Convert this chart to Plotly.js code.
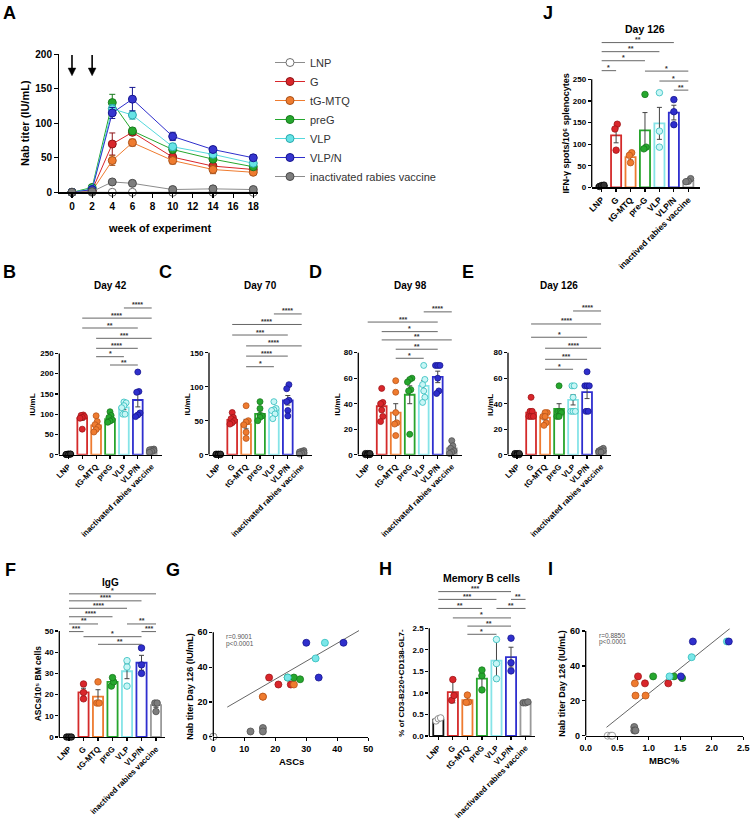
<!DOCTYPE html>
<html><head><meta charset="utf-8">
<script src="https://cdn.plot.ly/plotly-3.0.1.min.js"></script>
<style>html,body{margin:0;padding:0;background:#fff}#chart{width:750px;height:822px}</style>
</head><body><div id="chart"></div>
<script>
// ================= DATA =================
const groupsA = ['LNP','G','tG-MTQ','preG','VLP','VLP/N','inactivated rabies vaccine'];
const catsDay = ['LNP','G','tG-MTQ','preG','VLP','VLP/N','inactivated rabies vaccine'];
const catsJ   = ['LNP','G','tG-MTQ','pre-G','VLP','VLP/N','inactived rabies vaccine'];
const catsF   = ['LNP','G','tG-MTQ','preG','VLP','VLP/N','inactived rabies vaccine'];
const catsH   = ['LNP','G','tG-MTQ','preG','VLP','VLP/N','inactivated rabies vaccine'];

// A: Nab titer (IU/mL) mean and SEM by week
const weeks = [0,2,4,6,10,14,18];
const immunizationWeeks = [0,2];
const titerLNP   = [0,0,0,0,0,0,0];
const titerG     = [0,3,70,87,51,38,33];
const titerTG    = [0,2,46,72,46,33,29];
const titerPreG  = [0,7,130,89,62,48,37];
const titerVLP   = [0,5,121,112,66,55,42];
const titerVLPN  = [0,4,115,135,81,62,50];
const titerInact = [0,1,15,13,4,5,4];
const semLNP   = [0,0,0,0,0,0,0];
const semG     = [0,1,16,4,5,4,3];
const semTG    = [0,1,7,5,5,6,3];
const semPreG  = [0,2,12,4,4,4,3];
const semVLP   = [0,2,6,6,5,4,3];
const semVLPN  = [0,2,8,17,6,4,4];
const semInact = [0,0.5,1.5,1.5,1,1,1];

// J: IFN-y spots, day 126
const meanJ = [3,120,70,132,148,173,15];
const semJ  = [1,17,7,41,37,17,2];
const ptsJ  = [[2,4,5],[146,135,86],[80,74,57],[215,93,89],[219,130,93],[203,175,145],[20,14,13]];
const sigJ  = [[0,1,270,'*'],[0,3,293,'*'],[0,4,314,'**'],[0,5,335,'**'],[3,6,269,'*'],[4,6,246,'*'],[5,6,225,'**']];

// B: Day 42
const mean42 = [1,90,72,88,117,135,10];
const sem42  = [0.5,5,6,4,6,17,1];
const pts42  = [[0,1,2,1,0,2],[98,97,94,92,90,63],[96,82,74,68,62,56],[106,97,92,86,83,80],[130,128,121,116,100,100],[204,156,154,103,98,94],[14,13,12,10,8,6]];
const sig42  = [[4,6,362,'****'],[1,6,337,'****'],[1,5,312.6,'**'],[2,6,287.2,'***'],[2,5,262.5,'****'],[2,4,241.8,'*'],[3,5,221.3,'**']];

// C: Day 70
const mean70 = [0.5,51,45,60,65,80,3];
const sem70  = [0.3,2.5,7,4.5,3.5,7,1];
const pts70  = [[0,1,1,0,0,1],[62,55,53,50,47,45],[72,50,48,44,33,24],[78,68,58,57,55,50],[78,68,66,65,60,53],[103,97,80,78,65,57],[6,5,4,3,2,1]];
const sig70  = [[4,6,207,'****'],[1,6,191.5,'****'],[1,5,176,'***'],[2,6,160,'****'],[2,5,145,'****'],[2,4,129.4,'*']];

// D: Day 98
const mean98 = [0.5,38,33,47,54,61,5];
const sem98  = [0.3,4,7,7,4,4.5,1.5];
const pts98  = [[0,1,1,0,0,1],[52,41,40,35,30,26],[58,49,33,25,24,15],[60,59,57,51,50,16],[70,59,55,50,45,41],[70,70,70,60,50,48],[11,7,5,3,2,1]];
const sig98  = [[4,6,112,'****'],[0,5,104,'***'],[1,5,96.5,'*'],[1,6,90,'**'],[2,5,82.7,'**'],[2,4,75.6,'*']];

// E: Day 126
const mean126 = [0.5,33,29,36,43,49,3];
const sem126  = [0.3,2.5,1.7,4,4,5,0.5];
const pts126  = [[0,1,1,0,0,1],[45,34,34,30,30,30],[33,33,30,30,25,23],[54,34,34,33,30,30],[54,54,45,34,34,34],[65,54,54,54,34,34],[5,4,3,3,2,2]];
const sig126  = [[4,6,112.7,'****'],[1,6,102.5,'****'],[1,5,92.1,'*'],[2,6,83.5,'****'],[2,5,74.8,'***'],[2,4,67,'*']];

// per-mouse values used in F, G, H, I (same mouse order in each list)
const ascPts = [[0,0,0],[18,21,25],[16,16,26],[24,26,28],[24,33,36],[30,34,42],[16,16,12]];
const mbcPts = [[0.35,0.40,0.42],[0.83,0.94,1.31],[0.79,0.95,0.78],[1.07,1.40,1.53],[1.33,1.68,2.24],[1.70,1.51,2.27],[0.77,0.77,0.79]];
const nabPts = [[0,0,0],[34,30,30],[23,23,30],[34,34,33],[34,45,54],[54,34,54],[5,3,3]];

// F: IgG ASCs
const meanF = [0,21,19,26,31,35,15];
const semF  = [0.3,2,3.3,1,3.5,3.5,1];
const sigF  = [[0,6,67.5,'*'],[0,5,64.2,'****'],[0,4,60.7,'****'],[0,3,56.7,'****'],[0,2,53.3,'**'],[0,1,49.7,'***'],[4,6,53.3,'**'],[5,6,49.7,'***'],[1,5,47.3,'*'],[2,5,43.7,'**']];

// H: memory B cells
const meanH = [0.38,1.02,0.83,1.33,1.75,1.83,0.78];
const errH  = [0.02,0.25,0.09,0.22,0.47,0.23,0.02];
const sigH  = [[0,5,3.35,'***'],[0,4,3.17,'***'],[5,6,3.17,'**'],[0,3,2.96,'**'],[4,6,2.96,'**'],[1,5,2.74,'*'],[2,5,2.55,'**'],[2,4,2.36,'*']];

// G, I fitted lines and statistics
const fitGx = [4.5,47];  const fitGy = [17,61];
const fitIx = [0.33,2.29]; const fitIy = [4.8,61.5];
const statG = ['r=0.9001','p&lt;0.0001'];
const statI = ['r=0.8850','p&lt;0.0001'];

// ================= STYLE =================
const FONT = '"Liberation Sans", Arial, Helvetica, sans-serif';
const W = 750, H = 822;
const fx = p => p / W;
const fy = p => 1 - p / H;
const barEdge = ['#111111','#d42a2a','#ee7b30','#27a52c','#86e4e8','#2f2fcf','#9a9a9a'];
const ptFill  = ['#333333','#d9262b','#ef7b2f','#26a72e','#c8f6f6','#2f2fcc','#7d7d7d'];
const ptEdge  = ['#000000','#a01518','#b9551a','#187a1d','#2fbdbd','#161690','#505050'];
const fillA   = ['#ffffff','#d9262b','#ef7b2f','#26a72e','#66e3e6','#3535cf','#7d7d7d'];
const edgeA   = ['#6e6e6e','#8e1518','#a9521a','#187a1d','#2aa9ad','#161690','#4a4a4a'];
const lineA   = ['#8c8c8c','#d9262b','#ef7b2f','#26a72e','#55d8dc','#2f2fcc','#8c8c8c'];

const traces = [], shapes = [], annotations = [];
const layout = {
  width: W, height: H, margin: {l:0, r:0, t:0, b:0},
  paper_bgcolor: '#ffffff', plot_bgcolor: 'rgba(0,0,0,0)',
  font: {family: FONT, color: '#000'}, hovermode: false, showlegend: true,
  legend: {x: fx(270), y: fy(48), xanchor: 'left', yanchor: 'top', bgcolor: 'rgba(0,0,0,0)',
           font: {family: FONT, size: 11, color: '#333'}, itemwidth: 30, traceorder: 'normal'}
};

function ax(n) { return n === 1 ? {x:'x', y:'y', xa:'xaxis', ya:'yaxis'} : {x:'x'+n, y:'y'+n, xa:'xaxis'+n, ya:'yaxis'+n}; }
function baseAxis(extra) {
  return Object.assign({showgrid:false, zeroline:false, ticks:'outside', ticklen:3, tickwidth:1.2, tickcolor:'#000',
    showline:true, linecolor:'#000', linewidth:1.3, fixedrange:true,
    tickfont:{family:FONT, size:8, color:'#000', weight:'bold'}}, extra);
}
function txt(x, y, text, size, opts) {
  annotations.push(Object.assign({xref:'paper', yref:'paper', x:fx(x), y:fy(y), text:text, showarrow:false,
    xanchor:'center', yanchor:'middle', font:{family:FONT, size:size, color:'#000', weight:'bold'}}, opts || {}));
}
function swarm(vals, tol, step) {
  const order = vals.map((v,i)=>i).sort((a,b)=>vals[a]-vals[b]);
  const offs = vals.map(()=>0);
  let row = [];
  const flush = () => { row.forEach((id,j)=>{ offs[id] = (j - (row.length-1)/2) * step; }); row = []; };
  order.forEach(id => { if (row.length && (vals[id]-vals[row[0]] > tol || row.length >= 3)) flush(); row.push(id); });
  flush();
  return offs;
}

function barPanel(n, c) {
  const a = ax(n);
  const idx = c.cats.map((_, i) => i);
  layout[a.xa] = baseAxis({domain:[fx(c.px[0]), fx(c.px[1])], anchor:a.y, range:c.xr,
    tickmode:'array', tickvals:idx, ticktext:c.cats, tickangle:-45,
    tickfont:{family:FONT, size:c.catSize || 8, color:'#000', weight:'bold'}});
  layout[a.ya] = baseAxis({domain:[fy(c.py[1]), fy(c.py[0])], anchor:a.x, range:[0, c.ytop],
    tickmode:'array', tickvals:c.yticks, ticktext:c.ytext || c.yticks.map(String), showline:false});
  shapes.push({type:'line', xref:'paper', yref:a.y, x0:fx(c.px[0]), x1:fx(c.px[0]), y0:0,
    y1:c.yticks[c.yticks.length-1], line:{color:'#000', width:1.3}});
  traces.push({type:'bar', x:idx, y:c.mean, width:0.7, xaxis:a.x, yaxis:a.y, showlegend:false, hoverinfo:'skip',
    marker:{color:'#ffffff', line:{color:barEdge, width:1.8}},
    error_y:{type:'data', array:c.err, visible:true, color:'#444', thickness:1, width:2.5}});
  c.pts.forEach((vals, g) => {
    const offs = swarm(vals, c.tol, 0.16);
    const fill = (c.lnpOpen && g === 0) ? '#ffffff' : ptFill[g];
    const edge = (c.lnpOpen && g === 0) ? '#777777' : ptEdge[g];
    traces.push({type:'scatter', mode:'markers', x:vals.map((v,k)=>g+offs[k]), y:vals, xaxis:a.x, yaxis:a.y,
      showlegend:false, cliponaxis:false, hoverinfo:'skip',
      marker:{size:c.msize || 6, color:fill, line:{color:edge, width:0.8}}});
  });
  c.sig.forEach(([i0, i1, lev, lab]) => {
    shapes.push({type:'line', xref:a.x, yref:a.y, x0:i0, x1:i1, y0:lev, y1:lev, line:{color:'#555', width:0.9}});
    annotations.push({xref:a.x, yref:a.y, x:(i0+i1)/2, y:lev, text:lab, showarrow:false, yanchor:'bottom', yshift:-2.5,
      font:{family:FONT, size:7, color:'#333', weight:'bold'}});
  });
}

function scatterPanel(n, c) {
  const a = ax(n);
  layout[a.xa] = baseAxis({domain:[fx(c.px[0]), fx(c.px[1])], anchor:a.y, range:c.xr,
    tickmode:'array', tickvals:c.xticks, ticktext:c.xtext, tickfont:{family:FONT, size:9, color:'#000', weight:'bold'}});
  layout[a.ya] = baseAxis({domain:[fy(c.py[1]), fy(c.py[0])], anchor:a.x, range:[0, c.ytop],
    tickmode:'array', tickvals:c.yticks, showline:false, tickfont:{family:FONT, size:9, color:'#000', weight:'bold'}});
  shapes.push({type:'line', xref:'paper', yref:a.y, x0:fx(c.px[0]), x1:fx(c.px[0]), y0:0,
    y1:c.yticks[c.yticks.length-1], line:{color:'#000', width:1.3}});
  traces.push({type:'scatter', mode:'lines', x:c.fitx, y:c.fity, xaxis:a.x, yaxis:a.y, showlegend:false, hoverinfo:'skip',
    line:{color:'#666', width:1}});
  c.xs.forEach((xv, g) => {
    const fill = g === 0 ? '#ffffff' : (g === 4 ? '#7ae6e8' : ptFill[g]);
    const edge = g === 0 ? '#888888' : ptEdge[g];
    traces.push({type:'scatter', mode:'markers', x:xv, y:c.ys[g], xaxis:a.x, yaxis:a.y, showlegend:false,
      cliponaxis:false, hoverinfo:'skip', marker:{size:7, color:fill, line:{color:edge, width:0.8}}});
  });
  c.stat.forEach((s, k) => txt(c.statPos[0], c.statPos[1] + k*6.8, s, 6.5,
    {xanchor:'left', font:{family:FONT, size:6.5, color:'#555', weight:'normal'}}));
}

// ---------- Panel A ----------
(function(){
  const ys = [titerLNP, titerG, titerTG, titerPreG, titerVLP, titerVLPN, titerInact];
  const es = [semLNP, semG, semTG, semPreG, semVLP, semVLPN, semInact];
  layout.xaxis = baseAxis({domain:[fx(59.3), fx(258)], anchor:'y', range:[-1.26, 18.47],
    tickmode:'array', tickvals:[0,2,4,6,8,10,12,14,16,18], ticklen:4,
    tickfont:{family:FONT, size:10, color:'#000', weight:'bold'}});
  layout.yaxis = baseAxis({domain:[fy(192.3), fy(54.3)], anchor:'x', range:[0,200],
    tickmode:'array', tickvals:[0,50,100,150,200], ticklen:4,
    tickfont:{family:FONT, size:10, color:'#000', weight:'bold'}});
  ys.forEach((y, g) => traces.push({type:'scatter', mode:'lines+markers', name:groupsA[g], x:weeks, y:y,
    xaxis:'x', yaxis:'y', cliponaxis:false, hoverinfo:'skip', showlegend:true,
    line:{color:lineA[g], width:1}, marker:{size:8, color:fillA[g], line:{color:edgeA[g], width:1}},
    error_y:{type:'data', array:es[g], visible:true, color:edgeA[g], thickness:1, width:3}}));
  immunizationWeeks.forEach(w => {
    shapes.push({type:'line', xref:'x', yref:'y', x0:w, x1:w, y0:199, y1:178, line:{color:'#000', width:1.6}});
    shapes.push({type:'path', xref:'x', yref:'y', path:'M '+(w-0.38)+',180 L '+(w+0.38)+',180 L '+w+',169 Z',
      fillcolor:'#000', line:{color:'#000', width:0.5}});
  });
  txt(25, 123, 'Nab titer (IU/mL)', 11, {textangle:-90});
  txt(159, 228, 'week of experiment', 11);
  txt(9, 13, 'A', 18);
})();

// ---------- Panel J ----------
barPanel(2, {px:[591.7, 700], py:[40, 187.3], xr:[-0.69, 6.81], ytop:341, yticks:[0,50,100,150,200,250],
  cats:catsJ, mean:meanJ, err:semJ, pts:ptsJ, sig:sigJ, tol:11, msize:6.5, catSize:8.5});
txt(645, 29, 'Day 126', 10.5);
txt(565, 133.5, 'IFN-γ spots/10⁶ splenocytes', 9, {textangle:-90});
txt(548, 13, 'J', 18);

// ---------- Row 2 ----------
barPanel(3, {px:[59.3, 161.7], py:[300, 454.7], xr:[-0.65, 6.72], ytop:381.7, yticks:[0,50,100,150,200,250],
  cats:catsDay, mean:mean42, err:sem42, pts:pts42, sig:sig42, tol:12});
barPanel(4, {px:[209, 311.7], py:[300, 454.7], xr:[-0.67, 6.72], ytop:227.5, yticks:[0,50,100,150],
  cats:catsDay, mean:mean70, err:sem70, pts:pts70, sig:sig70, tol:7.4});
barPanel(5, {px:[358.3, 461.7], py:[300, 454.7], xr:[-0.67, 6.71], ytop:121.3, yticks:[0,20,40,60,80],
  cats:catsDay, mean:mean98, err:sem98, pts:pts98, sig:sig98, tol:4});
barPanel(6, {px:[508, 611], py:[300, 454.7], xr:[-0.65, 6.71], ytop:121.3, yticks:[0,20,40,60,80],
  cats:catsDay, mean:mean126, err:sem126, pts:pts126, sig:sig126, tol:4});
[['Day 42',110.5,31.7,'B',9],['Day 70',260,186.5,'C',165],['Day 98',410,336.7,'D',315],['Day 126',559,490,'E',468]]
  .forEach(([t, cx, yx, L, lx]) => { txt(cx, 285, t, 10); txt(yx, 405, 'IU/mL', 8, {textangle:-90}); txt(lx, 272, L, 18); });

// ---------- Row 3 ----------
barPanel(7, {px:[59.3, 165], py:[586, 737], xr:[-0.67, 6.62], ytop:71.2, yticks:[0,10,20,30,40,50],
  cats:catsF, mean:meanF, err:semF, pts:ascPts, sig:sigF, tol:2.4, msize:6.5});
txt(110, 582, 'IgG', 10);
txt(38.3, 683, 'ASCs/10⁵ BM cells', 8.5, {textangle:-90});
txt(10, 570, 'F', 18);

scatterPanel(8, {px:[213.3, 368.3], py:[629.7, 736.7], xr:[0,50], ytop:61.5, xticks:[0,10,20,30,40,50],
  xtext:['0','10','20','30','40','50'], yticks:[0,20,40,60], xs:ascPts, ys:nabPts, fitx:fitGx, fity:fitGy,
  stat:statG, statPos:[224, 636.7]});
txt(190, 686.7, 'Nab titer Day 126 (IU/mL)', 9, {textangle:-90});
txt(291.7, 761.7, 'ASCs', 9.5);
txt(173, 570, 'G', 18);

barPanel(9, {px:[429.3, 535], py:[583, 736], xr:[-0.62, 6.65], ytop:3.55, yticks:[0,0.5,1,1.5,2,2.5],
  ytext:['0.0','0.5','1.0','1.5','2.0','2.5'], cats:catsH, mean:meanH, err:errH, pts:mbcPts, sig:sigH,
  tol:0.12, msize:6.5, lnpOpen:true});
txt(481.7, 578.3, 'Memory B cells', 10.5);
txt(400.7, 683, '% of CD3-B220+CD138-GL7-', 8, {textangle:-90});
txt(385, 569, 'H', 18);

scatterPanel(10, {px:[585.7, 743.3], py:[628.4, 735.7], xr:[0,2.5], ytop:61.5, xticks:[0,0.5,1,1.5,2,2.5],
  xtext:['0.0','0.5','1.0','1.5','2.0','2.5'], yticks:[0,20,40,60], xs:mbcPts, ys:nabPts, fitx:fitIx, fity:fitIy,
  stat:statI, statPos:[596.7, 635]});
txt(561.7, 683, 'Nab titer Day 126 (IU/mL)', 9, {textangle:-90});
txt(664.3, 760, 'MBC%', 9.5);
txt(550, 569, 'I', 18);

layout.shapes = shapes;
layout.annotations = annotations;
Plotly.newPlot('chart', traces, layout, {staticPlot:true, displayModeBar:false});
</script></body></html>
